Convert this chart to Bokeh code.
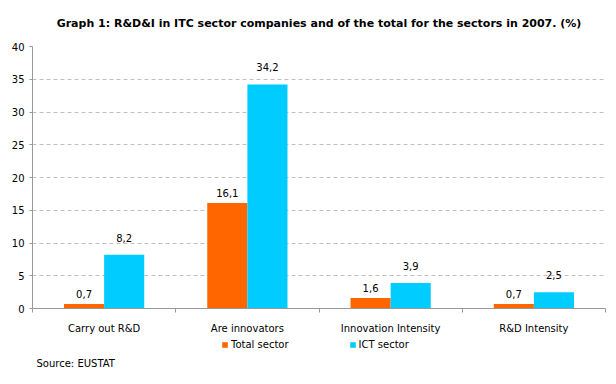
from bokeh.plotting import figure
from bokeh.layouts import column
from bokeh.models import Range1d, FixedTicker, Legend, LegendItem, Label, ColumnDataSource
from bokeh.core.properties import value
from bokeh.embed import file_html
from bokeh.resources import INLINE
import numpy as np

categories = ["Carry out R&D", "Are innovators", "Innovation Intensity", "R&D Intensity"]
total_sector = [0.7, 16.1, 1.6, 0.7]
ict_sector = [8.2, 34.2, 3.9, 2.5]
y_ticks = [0, 5, 10, 15, 20, 25, 30, 35, 40]
series_names = ["Total sector", "ICT sector"]
title_text = "Graph 1: R&D&I in ITC sector companies and of the total for the sectors in 2007. (%)"
source_text = "Source: EUSTAT"

FONT = "DejaVu Sans"
ORANGE = "#FF6600"
CYAN = "#00CCFF"
AXIS = "#999999"

n = len(categories)
centers = np.arange(n) + 0.5
bw = 0.28
FRAME_W = 573


def strip(h):
    f = figure(width=616, height=h, output_backend="svg", toolbar_location=None,
               x_range=Range1d(0, 1), y_range=Range1d(0, 1),
               x_axis_location=None, y_axis_location=None, min_border=0)
    f.outline_line_color = None
    f.grid.visible = False
    f.border_fill_color = "white"
    return f


# header strip with the title (frame aligned with the main frame)
p0 = strip(40)
p0.add_layout(Label(x=FRAME_W / 2, y=17, x_units="screen", y_units="screen", text=title_text,
                    text_font=FONT, text_font_size="11px", text_font_style="bold",
                    text_align="center", text_baseline="middle", text_color="black"))

p = figure(width=616, height=296, output_backend="svg", toolbar_location=None,
           x_range=Range1d(0, n), y_range=Range1d(0, 40),
           min_border_left=32, min_border_right=11, min_border_top=6, min_border_bottom=26)
p.outline_line_color = None
p.background_fill_color = "white"
p.border_fill_color = "white"

fmt = lambda v: f"{v:.1f}".replace(".", ",")
src_t = ColumnDataSource(dict(x=centers - bw / 2, top=total_sector, lab=[fmt(v) for v in total_sector]))
src_i = ColumnDataSource(dict(x=centers + bw / 2, top=ict_sector, lab=[fmt(v) for v in ict_sector]))

p.vbar(x="x", top="top", width=bw, source=src_t, fill_color=ORANGE, line_color=None)
p.vbar(x="x", top="top", width=bw, source=src_i, fill_color=CYAN, line_color=None)

p.text(x="x", y="top", text="lab", source=src_t, text_align="center", text_baseline="middle",
       y_offset=-10, text_font=value(FONT), text_font_size="10px", text_color="black")
p.text(x="x", y="top", text="lab", source=src_i, text_align="center", text_baseline="middle",
       y_offset=-17, text_font=value(FONT), text_font_size="10px", text_color="black")

# y axis
p.yaxis.ticker = FixedTicker(ticks=y_ticks)
p.yaxis.axis_line_color = AXIS
p.yaxis.major_tick_line_color = AXIS
p.yaxis.major_tick_out = 3
p.yaxis.major_tick_in = 0
p.yaxis.minor_tick_line_color = None
p.yaxis.major_label_standoff = 5
p.yaxis.major_label_text_font = FONT
p.yaxis.major_label_text_font_size = "10px"
p.yaxis.major_label_text_color = "black"

# x axis: labels at centers, ticks at category boundaries
p.xaxis.ticker = FixedTicker(ticks=list(centers), minor_ticks=list(range(n + 1)))
p.xaxis.major_label_overrides = {float(c): cat for c, cat in zip(centers, categories)}
p.xaxis.axis_line_color = AXIS
p.xaxis.major_tick_line_color = None
p.xaxis.major_tick_out = 0
p.xaxis.major_tick_in = 0
p.xaxis.minor_tick_line_color = AXIS
p.xaxis.minor_tick_out = 4
p.xaxis.minor_tick_in = 0
p.xaxis.major_label_standoff = 10
p.xaxis.major_label_text_font = FONT
p.xaxis.major_label_text_font_size = "10px"
p.xaxis.major_label_text_color = "black"

p.xgrid.visible = False
p.ygrid.ticker = FixedTicker(ticks=y_ticks[1:-1])
p.ygrid.grid_line_color = "#C0C0C0"
p.ygrid.grid_line_dash = "4 3"

# footer strip with legend and source
p2 = strip(48)
d1 = p2.vbar(x=[np.nan], top=[np.nan], width=0.1, fill_color=ORANGE, line_color=None)
d2 = p2.vbar(x=[np.nan], top=[np.nan], width=0.1, fill_color=CYAN, line_color=None)

legend = Legend(items=[LegendItem(label=series_names[0], renderers=[d1]),
                       LegendItem(label=series_names[1], renderers=[d2])],
                orientation="horizontal", location=(189, 34),
                glyph_width=7, glyph_height=7, label_standoff=3, spacing=60,
                label_text_font=FONT, label_text_font_size="10px", label_height=12,
                label_text_color="black",
                padding=0, margin=0, border_line_color=None, background_fill_alpha=0)
p2.add_layout(legend)

p2.add_layout(Label(x=4, y=21, x_units="screen", y_units="screen", text=source_text,
                    text_font=FONT, text_font_size="10px", text_baseline="middle",
                    text_color="black"))

open("out.html", "w").write(file_html(column(p0, p, p2, spacing=0), INLINE))
